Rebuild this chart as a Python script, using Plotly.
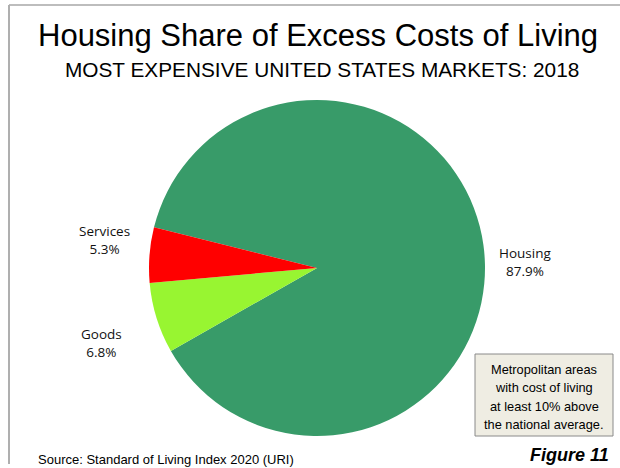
import plotly.graph_objects as go

categories = ["Housing", "Goods", "Services"]
shares = [87.9, 6.8, 5.3]
colors = ["#389B69", "#98F531", "#FF0000"]
note_lines = ["Metropolitan areas", "with cost of living", "at least 10% above", "the national average."]

W, H = 620, 468
cx, cy, r = 317, 268, 168
SANS = "Liberation Sans, Arial"

def px(x):
    return x / W

def py(y):
    return 1 - y / H

fig = go.Figure(go.Pie(
    labels=categories,
    values=shares,
    sort=False,
    direction="clockwise",
    rotation=284,
    marker=dict(colors=colors, line=dict(width=0)),
    textinfo="none",
    hoverinfo="label+percent",
    showlegend=False,
    domain=dict(x=[px(cx - r), px(cx + r)], y=[py(cy + r), py(cy - r)]),
))

label_pos = {"Housing": (525, 262), "Goods": (101, 343), "Services": (104, 240)}
annotations = []
for cat, val in zip(categories, shares):
    x, y = label_pos[cat]
    annotations.append(dict(
        x=px(x), y=py(y), xref="paper", yref="paper",
        text=f"{cat}<br>{val:.1f}%", showarrow=False,
        font=dict(family="Open Sans", size=13.5, color="#111111"),
        align="center", xanchor="center", yanchor="middle",
    ))

annotations += [
    dict(x=px(318), y=py(36), xref="paper", yref="paper", showarrow=False,
         text="Housing Share of Excess Costs of Living",
         font=dict(family=SANS, size=31, color="#000000"),
         xanchor="center", yanchor="middle"),
    dict(x=px(322), y=py(69), xref="paper", yref="paper", showarrow=False,
         text="MOST EXPENSIVE UNITED STATES MARKETS: 2018",
         font=dict(family=SANS, size=20.8, color="#000000"),
         xanchor="center", yanchor="middle"),
    dict(x=px(36), y=py(459), xref="paper", yref="paper", showarrow=False,
         text="Source: Standard of Living Index 2020 (URI)",
         font=dict(family=SANS, size=13, color="#000000"),
         xanchor="left", yanchor="middle"),
    dict(x=px(611), y=py(455), xref="paper", yref="paper", showarrow=False,
         text="<b><i>Figure 11</i></b>",
         font=dict(family=SANS, size=18, color="#000000"),
         xanchor="right", yanchor="middle"),
]

for i, line in enumerate(note_lines):
    annotations.append(dict(
        x=px(544), y=py(369 + 18.5 * i), xref="paper", yref="paper", showarrow=False,
        text=line, font=dict(family=SANS, size=12.8, color="#000000"),
        xanchor="center", yanchor="middle",
    ))

shapes = [
    dict(type="line", xref="paper", yref="paper", x0=px(9), x1=1, y0=py(5), y1=py(5),
         line=dict(color="#BDBDBD", width=2)),
    dict(type="line", xref="paper", yref="paper", x0=px(9), x1=px(9), y0=py(5), y1=py(464),
         line=dict(color="#AFAFAF", width=2)),
    dict(type="rect", xref="paper", yref="paper", x0=px(475), x1=px(613), y0=py(436), y1=py(354),
         fillcolor="#EFEDE3", line=dict(color="#8A8A8A", width=1), layer="below"),
]

fig.update_layout(
    width=W, height=H,
    margin=dict(l=0, r=0, t=0, b=0),
    paper_bgcolor="#FFFFFF", plot_bgcolor="#FFFFFF",
    annotations=annotations, shapes=shapes,
)

fig.write_html(
    "out.html",
    config={"displayModeBar": False},
    post_script="document.body.style.margin='0';document.body.style.overflow='hidden';",
)
